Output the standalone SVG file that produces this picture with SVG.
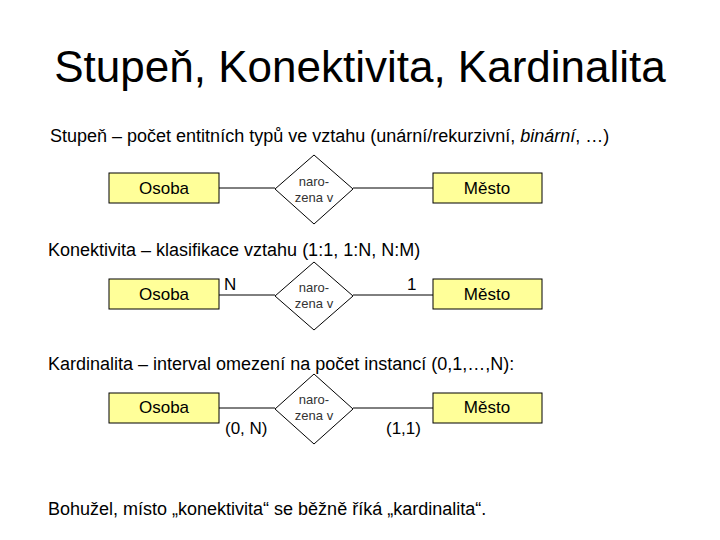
<svg xmlns="http://www.w3.org/2000/svg" width="720" height="540" viewBox="0 0 720 540">
<style>
text{font-family:"Liberation Sans",Arial,sans-serif;fill:#000}
.e{fill:#FFFF99;stroke:#000;stroke-width:1}
.r{fill:#fff;stroke:#000;stroke-width:1}
.l{stroke:#000;stroke-width:1;fill:none}
.et{font-size:17px;text-anchor:middle}
.rt{font-size:13px;text-anchor:middle;fill:#333}
.h{font-size:18px}
.c{font-size:17px}
</style>
<rect width="720" height="540" fill="#fff"/>
<text x="360" y="82" font-size="44" text-anchor="middle">Stupeň, Konektivita, Kardinalita</text>
<text x="50" y="142" class="h">Stupeň – počet entitních typů ve vztahu (unární/rekurzivní, <tspan font-style="italic">binární</tspan>, …)</text>
<text x="48" y="256" class="h">Konektivita – klasifikace vztahu (1:1, 1:N, N:M)</text>
<text x="48" y="370" class="h">Kardinalita – interval omezení na počet instancí (0,1,…,N):</text>
<text x="48" y="515" class="h">Bohužel, místo „konektivita“ se běžně říká „kardinalita“.</text>
<g id="connectors">
<line class="l" x1="219" y1="188" x2="275" y2="188"/><line class="l" x1="353" y1="188" x2="433" y2="188"/>
<line class="l" x1="219" y1="295" x2="275" y2="295"/><line class="l" x1="353" y1="295" x2="433" y2="295"/>
<line class="l" x1="219" y1="408" x2="275" y2="408"/><line class="l" x1="353" y1="408" x2="433" y2="408"/>
</g>
<g id="osoba1"><rect class="e" x="109" y="173" width="110" height="30"/><text class="et" x="164" y="194">Osoba</text></g>
<g id="rel1"><polygon class="r" points="314,155 353,189 314,224 275,189"/><text class="rt" x="314" y="186">naro-</text><text class="rt" x="314" y="202">zena v</text></g>
<g id="mesto1"><rect class="e" x="433" y="173" width="109" height="30"/><text class="et" x="487" y="194">Město</text></g>
<g id="osoba2"><rect class="e" x="109" y="279" width="110" height="30"/><text class="et" x="164" y="300">Osoba</text></g>
<g id="rel2"><polygon class="r" points="314,262 353,296 314,330 275,296"/><text class="rt" x="314" y="292">naro-</text><text class="rt" x="314" y="308">zena v</text></g>
<g id="mesto2"><rect class="e" x="433" y="279" width="109" height="30"/><text class="et" x="487" y="300">Město</text></g>
<text class="c" x="224" y="290">N</text><text class="c" x="407" y="290">1</text>
<g id="osoba3"><rect class="e" x="109" y="393" width="110" height="30"/><text class="et" x="164" y="413">Osoba</text></g>
<g id="rel3"><polygon class="r" points="314,374 353,409 314,444 275,409"/><text class="rt" x="314" y="404">naro-</text><text class="rt" x="314" y="420">zena v</text></g>
<g id="mesto3"><rect class="e" x="433" y="393" width="109" height="30"/><text class="et" x="487" y="413">Město</text></g>
<text class="c" x="225" y="434">(0, N)</text><text class="c" x="386" y="434">(1,1)</text>
</svg>
